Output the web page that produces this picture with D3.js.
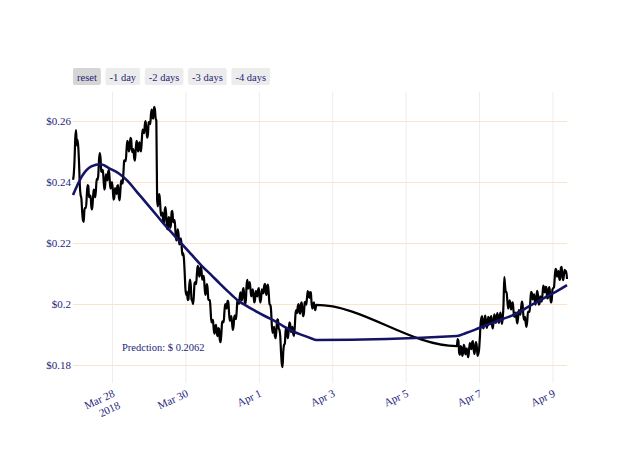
<!DOCTYPE html>
<html><head><meta charset="utf-8">
<script src="https://cdn.jsdelivr.net/npm/d3@7"></script>
<style>
body{margin:0;background:#fff}
svg{display:block}
text{font-family:"Liberation Serif","Times New Roman",serif}
</style>
</head><body>
<svg id="chart" width="640" height="457"></svg>
<script>
// ---------- data ----------
const startTime = Date.UTC(2018, 2, 26, 22, 30); // first half-hourly sample
const stepHours = 0.5;
const segment1StartHour = 0;
const segment2StartHour = 251;
const priceSegment1 = [
 .2407,.2425,.2472,.2545,.2570,.2520,.2538,.2510,.2456,.2385,
 .2357,.2345,.2302,.2275,.2269,.2310,.2315,.2315,.2354,.2390,
 .2387,.2350,.2354,.2355,.2318,.2310,.2341,.2375,.2370,.2350,
 .2374,.2410,.2407,.2420,.2472,.2495,.2479,.2435,.2433,.2440,
 .2407,.2375,.2387,.2425,.2420,.2405,.2433,.2440,.2407,.2378,
 .2390,.2400,.2377,.2342,.2348,.2380,.2374,.2360,.2387,.2390,
 .2351,.2340,.2374,.2405,.2400,.2395,.2433,.2470,.2472,.2468,
 .2505,.2535,.2528,.2500,.2511,.2545,.2541,.2505,.2498,.2508,
 .2479,.2470,.2505,.2535,.2528,.2500,.2515,.2530,.2505,.2500,
 .2538,.2572,.2570,.2560,.2590,.2600,.2570,.2545,.2557,.2595,
 .2597,.2590,.2623,.2637,.2610,.2608,.2646,.2640,.2610,.2600,
 .2341,.2320,.2351,.2360,.2328,.2290,.2292,.2300,.2269,.2265,
 .2308,.2318,.2288,.2245,.2246,.2285,.2282,.2250,.2259,.2302,
 .2305,.2268,.2275,.2275,.2236,.2208,.2220,.2245,.2229,.2195,
 .2203,.2215,.2193,.2160,.2167,.2150,.2105,.2050,.2030,.2040,
 .2013,.2015,.2059,.2080,.2062,.2015,.2010,.2000,.2026,.2068,
 .2072,.2065,.2098,.2125,.2118,.2090,.2098,.2122,.2111,.2080,
 .2088,.2092,.2059,.2030,.2039,.2065,.2052,.2015,.2013,.2012,
 .1977,.1940,.1941,.1948,.1918,.1903,.1925,.1932,.1905,.1895,
 .1921,.1918,.1882,.1875,.1902,.1940,.1944,.1940,.1974,.2000,
 .1997,.1985,.2010,.2010,.1974,.1945,.1948,.1960,.1938,.1915,
 .1928,.1962,.1961,.1950,.1974,.2010,.2013,.2000,.2023,.2038,
 .2016,.2012,.2043,.2052,.2026,.2000,.2010,.2062,.2079,.2050,
 .2059,.2072,.2052,.2025,.2030,.2048,.2033,.2005,.2013,.2042,
 .2039,.2025,.2046,.2052,.2023,.2005,.2020,.2048,.2043,.2035,
 .2059,.2066,.2039,.2030,.2059,.2064,.2033,.2000,.1997,.1980,
 .1931,.1905,.1918,.1925,.1895,.1888,.1915,.1950,.1948,.1920,
 .1915,.1895,.1843,.1805,.1793,.1845,.1866,.1870,.1911,.1922,
 .1898,.1888,.1911,.1940,.1934,.1908,.1915,.1925,.1902,.1895,
 .1925,.1968,.1980,.1970,.1993,.2000,.1974,.1968,.1997,.2005,
 .1980,.1960,.1970,.2005,.2007,.1998,.2020,.2042,.2033,.2020,
 .2039,.2038,.2003,.1985,.1997,.2005,.1987,.1980,.1997
];
const priceSegment2 = [
 .1862,.1885,.1879,.1840,.1833,.1862,.1856,.1830,.1839,.1866,
 .1859,.1835,.1843,.1855,.1833,.1826,.1852,.1872,.1862,.1852,
 .1875,.1878,.1849,.1836,.1856,.1875,.1862,.1830,.1836,.1850,
 .1888,.1935,.1954,.1960,.1925,.1920,.1948,.1962,.1944,.1922,
 .1931,.1958,.1951,.1935,.1954,.1960,.1931,.1920,.1944,.1966,
 .1954,.1938,.1957,.1970,.1948,.1938,.1961,.1972,.1948,.1935,
 .1954,.2000,.2088,.2060,.2039,.2040,.2010,.1985,.1993,.2012,
 .1997,.1982,.2000,.2005,.1980,.1958,.1964,.1972,.1951,.1936,
 .1954,.1980,.1974,.1965,.1987,.2008,.1997,.1960,.1948,.1958,
 .1938,.1925,.1944,.1975,.1974,.1975,.2007,.2040,.2036,.2015,
 .2026,.2032,.2007,.1998,.2023,.2043,.2030,.1998,.2000,.2025,
 .2013,.2008,.2033,.2060,.2052,.2038,.2056,.2055,.2020,.2018,
 .2049,.2055,.2026,.2005,.2013,.2048,.2052,.2055,.2088,.2115,
 .2111,.2090,.2102,.2108,.2079,.2082,.2118,.2122,.2092,.2078,
 .2095,.2112,.2102,.2108,.2082
];
const predictionHours = [0,6,12,18,24,30,36,42,48,54,60,66,72,78,84,90,96,102,108,114,120,126,132,138,144,150,156,159,
  251,257,263,269,275,281,287,293,299,305,311,317,323];
const predictionValues = [.2357,.2420,.2451,.2458,.2444,.2428,.2402,.2366,.2331,.2295,.2259,.2226,.2192,.2159,.2126,.2097,.2067,.2038,.2011,.1992,.1975,.1959,.1944,.1926,.1910,.1898,.1887,.1882,
  .1895,.1905,.1916,.1928,.1939,.1951,.1962,.1977,.1995,.2011,.2028,.2044,.2062];
const xTickDates = ["2018-03-28","2018-03-30","2018-04-01","2018-04-03","2018-04-05","2018-04-07","2018-04-09"];
const xTickLabels = [["Mar 28","2018"],["Mar 30"],["Apr 1"],["Apr 3"],["Apr 5"],["Apr 7"],["Apr 9"]];
const yTickValues = [0.18,0.2,0.22,0.24,0.26];
const yTickLabels = ["$0.18","$0.2","$0.22","$0.24","$0.26"];
const yDomain = [0.1741,0.2695];
const buttonLabels = ["reset","-1 day","-2 days","-3 days","-4 days"];
const predictionLabel = "Predction: $ ";

// ---------- layout ----------
const textColor = "#1e1e78";
const plot = {left:73, right:567, top:92, bottom:383};
const hourMs = 3600e3;

const price = priceSegment1.map((v,i)=>({t:new Date(startTime+(segment1StartHour+i*stepHours)*hourMs), v}))
  .concat(priceSegment2.map((v,i)=>({t:new Date(startTime+(segment2StartHour+i*stepHours)*hourMs), v})));
const prediction = predictionHours.map((h,i)=>({t:new Date(startTime+h*hourMs), v:predictionValues[i]}));

const svg = d3.select("#chart");
const x = d3.scaleUtc().domain(d3.extent(price,d=>d.t)).range([plot.left, plot.right]);
const y = d3.scaleLinear().domain(yDomain).range([plot.bottom, plot.top]);

// x grid + labels
const xAxis = svg.append("g").attr("transform",`translate(0,${plot.bottom})`)
  .call(d3.axisBottom(x).tickValues(xTickDates.map(s=>new Date(s+"T00:00:00Z")))
    .tickSize(-(plot.bottom-plot.top)).tickFormat(""));
xAxis.select(".domain").remove();
xAxis.selectAll(".tick line").attr("stroke","#ededed").attr("stroke-width",1);
xAxis.selectAll(".tick text").remove();
xAxis.selectAll(".tick").each(function(d,i){
  const t = d3.select(this).append("text")
    .attr("transform","translate(3,13) rotate(-25)")
    .attr("text-anchor","end")
    .attr("fill",textColor)
    .attr("font-size",11);
  xTickLabels[i].forEach((s,j)=>{
    t.append("tspan").attr("x",0).attr("dy", j===0 ? 0 : "1.2em").text(s);
  });
});

// y grid + labels
const yAxis = svg.append("g").attr("transform",`translate(${plot.left},0)`)
  .call(d3.axisLeft(y).tickValues(yTickValues).tickFormat((d,i)=>yTickLabels[i])
    .tickSize(-(plot.right-plot.left)).tickPadding(2));
yAxis.select(".domain").remove();
yAxis.selectAll(".tick line").attr("stroke","#fce3ca").attr("stroke-width",1);
yAxis.selectAll(".tick text").attr("fill",textColor).attr("font-size",11)
  .attr("font-family",'"Liberation Serif",serif');

// lines
const curveLine = d3.line().x(d=>x(d.t)).y(d=>y(d.v)).curve(d3.curveMonotoneX);
svg.append("path").datum(price).attr("d",curveLine)
  .attr("fill","none").attr("stroke","#000").attr("stroke-width",2.2).attr("stroke-linejoin","round");
svg.append("path").datum(prediction).attr("d",curveLine)
  .attr("fill","none").attr("stroke","#141466").attr("stroke-width",2.6).attr("stroke-linejoin","round");

// annotation
svg.append("text").attr("x",122).attr("y",351).attr("fill",textColor).attr("font-size",10.5)
  .text(predictionLabel + d3.format(".4f")(predictionValues[predictionValues.length-1]));

// buttons
const btnG = svg.append("g");
let bx = 73;
buttonLabels.forEach((lab,i)=>{
  const g = btnG.append("g");
  const rect = g.append("rect").attr("y",68).attr("height",17).attr("rx",2)
    .attr("fill", i===0 ? "#d5d5d5" : "#ececec");
  const txt = g.append("text").attr("y",80.5).attr("fill",textColor).attr("font-size",10.5).text(lab);
  const w = txt.node().getComputedTextLength();
  const bw = w + 8;
  rect.attr("x",bx).attr("width",bw);
  txt.attr("x",bx+bw/2).attr("text-anchor","middle");
  bx += bw + 4.7;
});
</script>
</body></html>
